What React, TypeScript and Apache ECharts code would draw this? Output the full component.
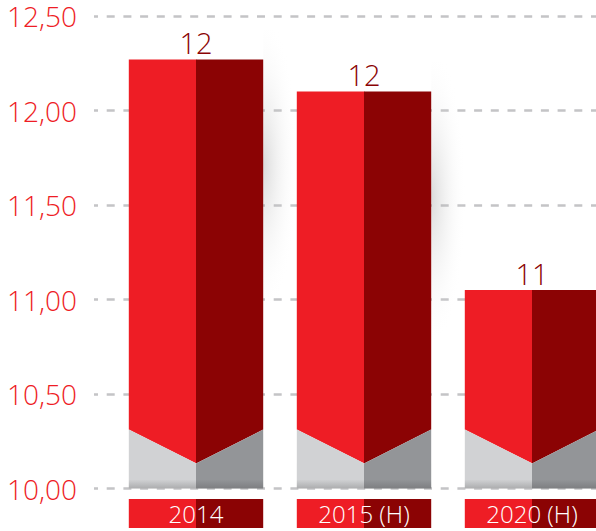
import React, { useEffect, useRef } from "react";
import * as echarts from "echarts";

const categories = ["2014", "2015 (H)", "2020 (H)"];
const values = [12.27, 12.1, 11.05];
const yMin = 10;
const yMax = 12.5;
const yInterval = 0.5;

const RED = "#ee1d25";
const DARK = "#8b0304";
const LGRAY = "#d1d2d4";
const DGRAY = "#939598";
const FONT = "'Open Sans', sans-serif";

export default function App() {
  const ref = useRef<HTMLDivElement>(null);
  useEffect(() => {
    if (!ref.current) return;
    const chart = echarts.init(ref.current, null, { renderer: "svg" });
    const data = values.map((v, i) => [i, v]);
    chart.setOption({
      animation: false,
      backgroundColor: "#ffffff",
      grid: [
        { left: 94, right: 0, top: 16, bottom: 42.5, outerBoundsMode: "none" },
        { left: 112, width: 504, top: 16, bottom: 42.5, outerBoundsMode: "none" },
      ],
      xAxis: [
        { type: "category", gridIndex: 0, data: categories, show: false },
        { type: "category", gridIndex: 1, data: categories, show: false },
      ],
      yAxis: [
        {
          type: "value",
          gridIndex: 0,
          min: yMin,
          max: yMax,
          interval: yInterval,
          axisLine: { show: false },
          axisTick: { show: false },
          axisLabel: {
            color: RED,
            fontSize: 28,
            lineHeight: 26,
            fontFamily: FONT,
            fontWeight: 300,
            margin: 17,
            formatter: (v: number) => v.toFixed(2).replace(".", ","),
          },
          splitLine: {
            lineStyle: { color: "#c4c4c6", width: 2.5, type: [8, 8.7], dashOffset: 4 },
          },
        },
        { type: "value", gridIndex: 1, min: yMin, max: yMax, interval: yInterval, show: false },
      ],
      series: [
        {
          type: "custom",
          xAxisIndex: 1,
          yAxisIndex: 1,
          clip: false,
          data,
          encode: { x: 0, y: 1 },
          renderItem: (params: any, api: any) => {
            const idx = api.value(0);
            const v = api.value(1);
            const top = api.coord([idx, v]);
            const base = api.coord([idx, yMin]);
            const bw = api.size([1, 0])[0] * 0.8;
            const cx = top[0];
            const l = cx - bw / 2;
            const r = cx + bw / 2;
            const t = top[1];
            const b = base[1];
            const edgeY = b - 59;
            const midY = b - 25;
            return {
              type: "group",
              children: [
                {
                  type: "rect",
                  shape: { x: r, y: t - 30, width: 70, height: 300 },
                  style: {
                    fill: new echarts.graphic.RadialGradient(0, 0.45, 0.5, [
                      { offset: 0, color: "rgba(140,140,140,0.32)" },
                      { offset: 1, color: "rgba(255,255,255,0)" },
                    ]),
                  },
                },
                {
                  type: "polygon",
                  shape: { points: [[l, t], [cx + 0.5, t], [cx + 0.5, midY], [l, edgeY]] },
                  style: { fill: RED },
                },
                {
                  type: "polygon",
                  shape: { points: [[cx, t], [r, t], [r, edgeY], [cx, midY]] },
                  style: { fill: DARK },
                },
                {
                  type: "polygon",
                  shape: { points: [[l, edgeY], [cx + 0.5, midY], [cx + 0.5, b], [l, b]] },
                  style: { fill: LGRAY },
                },
                {
                  type: "polygon",
                  shape: { points: [[cx, midY], [r, edgeY], [r, b], [cx, b]] },
                  style: { fill: DGRAY },
                },
                {
                  type: "rect",
                  shape: { x: l, y: b - 9, width: bw, height: 9 },
                  style: {
                    fill: new echarts.graphic.LinearGradient(0, 0, 0, 1, [
                      { offset: 0, color: "rgba(60,60,60,0)" },
                      { offset: 1, color: "rgba(60,60,60,0.25)" },
                    ]),
                  },
                },
                {
                  type: "rect",
                  shape: { x: l, y: b + 10.5, width: bw / 2 + 0.5, height: 29 },
                  style: { fill: RED },
                },
                {
                  type: "rect",
                  shape: { x: cx, y: b + 10.5, width: bw / 2, height: 29 },
                  style: { fill: DARK },
                },
                {
                  type: "text",
                  style: {
                    x: cx,
                    y: b + 25,
                    text: categories[idx],
                    fill: "#ffffff",
                    fontSize: 24,
                    lineHeight: 24,
                    fontFamily: FONT,
                    fontWeight: 300,
                    align: "center",
                    verticalAlign: "middle",
                  },
                },
                {
                  type: "text",
                  style: {
                    x: cx,
                    y: t - 17,
                    text: String(Math.round(v)),
                    fill: DARK,
                    fontSize: 29,
                    fontFamily: FONT,
                    fontWeight: 300,
                    align: "center",
                    verticalAlign: "middle",
                  },
                },
              ],
            };
          },
        },
      ],
    });
    return () => chart.dispose();
  }, []);
  return (
    <div
      ref={ref}
      style={{ position: "fixed", left: 0, top: 0, width: 596, height: 531 }}
    />
  );
}
